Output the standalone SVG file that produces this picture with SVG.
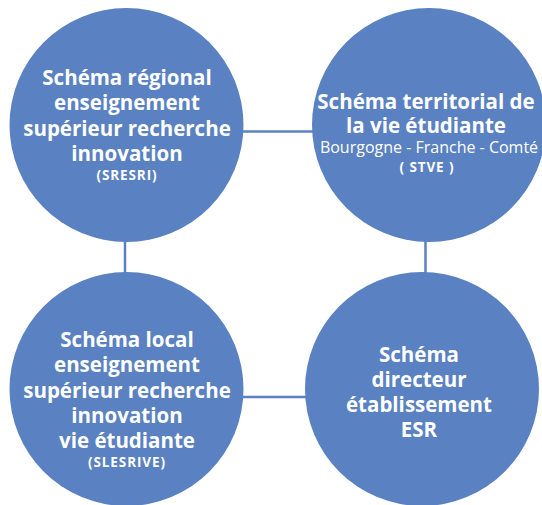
<svg xmlns="http://www.w3.org/2000/svg" width="542" height="505" viewBox="0 0 542 505">
<style>
.node circle{fill:#5A81C1}
.conn line{stroke:#5A81C1;stroke-width:2.5}
text{fill:#ffffff;font-family:"Open Sans","Liberation Sans",sans-serif;text-anchor:middle}
.t{font-size:20.5px;font-weight:700}
.s{font-size:13.5px;font-weight:700;letter-spacing:0.9px}
.r{font-size:16px;font-weight:400}
</style>
<rect width="542" height="505" fill="#ffffff"/>
<g class="conn">
<line x1="240" y1="131.5" x2="315" y2="131.5"/>
<line x1="125" y1="238" x2="125" y2="276"/>
<line x1="425.5" y1="238" x2="425.5" y2="276"/>
<line x1="240" y1="397" x2="308" y2="397"/>
</g>
<g id="sresri" class="node">
<circle cx="126.5" cy="125" r="117"/>
<text class="t" x="127" y="85">Schéma régional</text>
<text class="t" x="127" y="110">enseignement</text>
<text class="t" x="127" y="136">supérieur recherche</text>
<text class="t" x="127" y="161">innovation</text>
<text class="s" x="127" y="180">(SRESRI)</text>
</g>
<g id="stve" class="node">
<circle cx="429" cy="125" r="117"/>
<text class="t" x="426" y="109">Schéma territorial de</text>
<text class="t" x="426" y="133">la vie étudiante</text>
<text class="r" x="429" y="153">Bourgogne - Franche - Comté</text>
<text class="s" x="427" y="172">( STVE )</text>
</g>
<g id="slesrive" class="node">
<circle cx="126.5" cy="389" r="117"/>
<text class="t" x="127" y="347">Schéma local</text>
<text class="t" x="127" y="372">enseignement</text>
<text class="t" x="127" y="398">supérieur recherche</text>
<text class="t" x="127" y="423">innovation</text>
<text class="t" x="127" y="448">vie étudiante</text>
<text class="s" x="127" y="467">(SLESRIVE)</text>
</g>
<g id="esr" class="node">
<circle cx="422" cy="389" r="117"/>
<text class="t" x="419" y="362">Schéma</text>
<text class="t" x="419" y="387">directeur</text>
<text class="t" x="419" y="412">établissement</text>
<text class="t" x="419" y="437">ESR</text>
</g>
</svg>
